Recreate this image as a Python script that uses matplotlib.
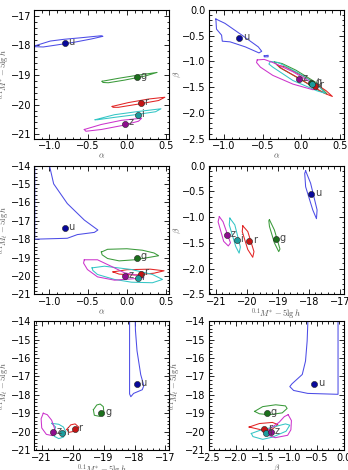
import matplotlib
matplotlib.use("Agg")
import matplotlib.pyplot as plt
from matplotlib.ticker import AutoMinorLocator, FixedLocator

plt.rcParams["mathtext.fontset"] = "cm"

# best-fit values per band
bands = ["u", "g", "r", "i", "z"]
alpha = [-0.80, 0.13, 0.18, 0.14, -0.03]
beta = [-0.55, -1.42, -1.47, -1.44, -1.35]
mstar = [-17.93, -19.07, -19.94, -20.34, -20.64]
mt = [-17.40, -19.00, -19.87, -20.10, -20.00]

point_colors = ["#08089a", "#1b6f1b", "#c41414", "#1c9c9c", "#8e0e8e"]
line_colors = ["#4c4ce6", "#3a9a3a", "#e22424", "#34c6c6", "#cc34cc"]

# confidence contours (x, y vertices)
cont_alpha_mstar = {
    "u": [(-1.20, -18.02), (-0.99, -17.85), (-0.81, -17.79), (-0.60, -17.74), (-0.33, -17.67),
          (-0.31, -17.69), (-0.46, -17.78), (-0.68, -17.89), (-0.90, -17.98), (-1.08, -18.05), (-1.20, -18.04)],
    "g": [(-0.32, -19.21), (-0.11, -19.11), (0.15, -19.00), (0.39, -18.91), (0.24, -19.03),
          (-0.03, -19.17), (-0.24, -19.26), (-0.31, -19.25)],
    "r": [(-0.19, -20.06), (0.02, -19.93), (0.28, -19.81), (0.49, -19.75), (0.41, -19.86),
          (0.15, -19.98), (-0.11, -20.09), (-0.18, -20.09)],
    "i": [(-0.41, -20.51), (-0.16, -20.34), (0.15, -20.23), (0.44, -20.14), (0.37, -20.24),
          (0.11, -20.34), (-0.16, -20.43), (-0.38, -20.51)],
    "z": [(-0.55, -20.84), (-0.33, -20.67), (-0.07, -20.53), (0.19, -20.46), (0.15, -20.56),
          (-0.07, -20.71), (-0.33, -20.84), (-0.53, -20.90)],
}

cont_alpha_beta = {
    "u": [(-1.105, -0.175), (-1.097, -0.371), (-1.031, -0.489), (-1.022, -0.606), (-0.921, -0.619),
          (-0.724, -0.717), (-0.548, -0.834), (-0.513, -0.802), (-0.557, -0.717), (-0.768, -0.489),
          (-0.987, -0.260)],
    "g": [(-0.35, -1.01), (-0.25, -1.04), (-0.07, -1.17), (0.20, -1.42), (0.33, -1.63),
          (0.22, -1.56), (-0.02, -1.34), (-0.28, -1.12)],
    "r": [(-0.31, -1.07), (-0.20, -1.11), (0.10, -1.35), (0.32, -1.57), (0.40, -1.68),
          (0.30, -1.62), (0.05, -1.40), (-0.25, -1.14)],
    "i": [(-0.40, -1.00), (-0.30, -1.02), (-0.02, -1.24), (0.20, -1.45), (0.31, -1.62),
          (0.20, -1.57), (-0.11, -1.37), (-0.37, -1.11), (-0.42, -1.05)],
    "z": [(-0.57, -0.97), (-0.48, -0.96), (-0.37, -1.02), (-0.11, -1.20), (0.15, -1.43),
          (0.20, -1.52), (0.15, -1.55), (-0.11, -1.44), (-0.37, -1.27), (-0.53, -1.11), (-0.58, -1.02)],
}
u_islet_alpha_beta = [(-0.48, -0.89), (-0.43, -0.88), (-0.43, -0.91), (-0.48, -0.91)]

cont_alpha_mt = {
    "u": [(-1.19, -13.8), (-1.19, -18.0), (-0.77, -17.95), (-0.64, -17.75), (-0.42, -17.63),
          (-0.375, -17.50), (-0.55, -16.96), (-0.77, -16.06), (-0.946, -14.99), (-1.0, -14.0),
          (-1.01, -13.8)],
    "g": [(-0.33, -18.70), (-0.25, -18.55), (0.0, -18.52), (0.20, -18.60), (0.35, -18.75),
          (0.41, -18.90), (0.30, -18.98), (0.10, -19.12), (-0.10, -19.18), (-0.25, -19.05),
          (-0.32, -18.85)],
    "r": [(-0.18, -19.78), (0.0, -19.66), (0.30, -19.63), (0.48, -19.72), (0.35, -19.85),
          (0.10, -19.95), (-0.10, -19.90)],
    "i": [(-0.45, -19.56), (-0.29, -19.47), (0.06, -19.65), (0.33, -19.92), (0.46, -20.19),
          (0.33, -20.37), (0.06, -20.34), (-0.16, -20.19), (-0.38, -19.92), (-0.44, -19.70)],
    "z": [(-0.55, -19.12), (-0.38, -19.12), (-0.20, -19.48), (-0.03, -19.83), (0.15, -19.98),
          (0.22, -20.10), (0.06, -20.16), (-0.16, -20.23), (-0.38, -20.05), (-0.51, -19.65),
          (-0.56, -19.30)],
}

cont_mstar_beta = {
    "u": [(-18.11, -0.10), (-17.95, -0.34), (-17.74, -0.86), (-17.76, -1.03), (-17.88, -0.86),
          (-18.11, -0.41), (-18.14, -0.15)],
    "g": [(-19.28, -1.05), (-19.12, -1.25), (-18.94, -1.62), (-18.98, -1.67), (-19.12, -1.50),
          (-19.28, -1.18), (-19.30, -1.07)],
    "r": [(-20.14, -1.17), (-19.98, -1.28), (-19.78, -1.67), (-19.82, -1.78), (-19.98, -1.63),
          (-20.16, -1.28)],
    "i": [(-20.56, -1.02), (-20.40, -1.15), (-20.22, -1.58), (-20.26, -1.70), (-20.37, -1.57),
          (-20.58, -1.15)],
    "z": [(-20.90, -0.99), (-20.78, -1.09), (-20.54, -1.50), (-20.61, -1.56), (-20.76, -1.47),
          (-20.94, -1.09)],
}

cont_mstar_mt = {
    "u": [(-18.16, -13.9), (-18.16, -17.95), (-18.12, -18.10), (-18.03, -17.92), (-17.75, -17.72),
          (-17.70, -17.50), (-17.80, -16.90), (-17.92, -15.60), (-17.97, -14.50), (-17.98, -13.9)],
    "g": [(-19.33, -18.81), (-19.22, -18.55), (-19.11, -18.50), (-19.01, -18.64), (-18.99, -18.97),
          (-19.13, -19.17), (-19.30, -19.11)],
    "r": [(-20.19, -19.88), (-20.06, -19.63), (-19.92, -19.58), (-19.80, -19.76), (-19.89, -19.96),
          (-20.12, -20.04)],
    "i": [(-20.68, -19.55), (-20.45, -19.60), (-20.30, -19.75), (-20.22, -20.00), (-20.30, -20.30),
          (-20.45, -20.38), (-20.60, -20.25), (-20.60, -19.95), (-20.55, -19.75)],
    "z": [(-20.95, -19.00), (-20.82, -19.08), (-20.68, -19.38), (-20.60, -19.75), (-20.55, -20.05),
          (-20.65, -20.22), (-20.85, -20.15), (-21.00, -19.80), (-21.02, -19.30)],
}

cont_beta_mt = {
    "u": [(-0.11, -13.9), (-0.11, -17.97), (-0.67, -17.92), (-0.93, -17.76), (-1.0, -17.55),
          (-0.96, -17.40), (-0.77, -16.89), (-0.71, -16.16), (-0.68, -15.07), (-0.665, -13.9)],
    "g": [(-1.65, -18.90), (-1.50, -18.64), (-1.26, -18.54), (-1.08, -18.60), (-1.05, -18.74),
          (-1.14, -18.98), (-1.38, -19.08), (-1.56, -19.03)],
    "r": [(-1.75, -19.75), (-1.56, -19.56), (-1.32, -19.50), (-1.22, -19.62), (-1.32, -19.86),
          (-1.53, -19.90)],
    "i": [(-1.71, -20.10), (-1.56, -19.94), (-1.32, -19.76), (-1.08, -19.58), (-1.0, -19.65),
          (-1.07, -19.98), (-1.32, -20.30), (-1.50, -20.42), (-1.68, -20.27)],
    "z": [(-1.03, -19.08), (-0.97, -19.40), (-0.98, -19.90), (-1.04, -20.20), (-1.27, -20.33),
          (-1.45, -20.15), (-1.36, -19.82), (-1.20, -19.50), (-1.10, -19.18)],
}

alpha_ticks = [-1.0, -0.5, 0.0, 0.5]
beta_ticks = [0.0, -0.5, -1.0, -1.5, -2.0, -2.5]
mstar_ticks = [-21, -20, -19, -18, -17]
mt_ticks = [-21, -20, -19, -18, -17, -16, -15, -14]

lab_alpha = r"$\alpha$"
lab_beta = r"$\beta$"
lab_mstar = r"$^{0.1}M^{*}-5\lg h$"
lab_mt = r"$^{0.1}M_{t}-5\lg h$"

panels = [
    (alpha, mstar, cont_alpha_mstar, (-1.2, 0.55), (-21.15, -16.8), alpha_ticks, mstar_ticks, lab_alpha, lab_mstar),
    (alpha, beta, cont_alpha_beta, (-1.2, 0.55), (-2.5, 0.0), alpha_ticks, beta_ticks, lab_alpha, lab_beta),
    (alpha, mt, cont_alpha_mt, (-1.2, 0.55), (-21, -14), alpha_ticks, mt_ticks, lab_alpha, lab_mt),
    (mstar, beta, cont_mstar_beta, (-21.25, -16.87), (-2.5, 0.0), mstar_ticks, beta_ticks, lab_mstar, lab_beta),
    (mstar, mt, cont_mstar_mt, (-21.25, -16.87), (-21, -14), mstar_ticks, mt_ticks, lab_mstar, lab_mt),
    (beta, mt, cont_beta_mt, (-2.5, 0.0), (-21, -14), beta_ticks, mt_ticks, lab_beta, lab_mt),
]


def fmt(v):
    s = "%.1f" % v if isinstance(v, float) else "%d" % v
    return s.replace("-", "\u2212")


fig, axs = plt.subplots(3, 2, figsize=(3.48, 4.70), dpi=100)
fig.subplots_adjust(left=34 / 348, right=344 / 348, top=1 - 10 / 470, bottom=1 - 450 / 470,
                    wspace=0.288, hspace=0.21)

for k, (ax, (xv, yv, conts, xlim, ylim, xt, yt, xl, yl)) in enumerate(zip(axs.flatten(), panels)):
    for b, lc in zip(bands, line_colors):
        pts = conts[b] + [conts[b][0]]
        ax.plot([p[0] for p in pts], [p[1] for p in pts], color=lc, lw=0.75)
    if conts is cont_alpha_beta:
        pts = u_islet_alpha_beta + [u_islet_alpha_beta[0]]
        ax.plot([p[0] for p in pts], [p[1] for p in pts], color=line_colors[0], lw=0.75)

    for b, x, y, pc in zip(bands, xv, yv, point_colors):
        ax.plot(x, y, "o", ms=4.4, mfc=pc, mec="#222222", mew=0.4, zorder=5)
        ax.annotate(b, (x, y), xytext=(2.6, 0.8), textcoords="offset points",
                    fontsize=7, color="#444444", va="center", ha="left", zorder=6)

    ax.set_xlim(xlim)
    ax.set_ylim(ylim)
    ax.xaxis.set_major_locator(FixedLocator(xt))
    ax.yaxis.set_major_locator(FixedLocator(yt))
    ax.set_xticklabels([fmt(v) for v in xt])
    ax.set_yticklabels([fmt(v) for v in yt])
    ax.xaxis.set_minor_locator(AutoMinorLocator(5))
    ax.yaxis.set_minor_locator(AutoMinorLocator(5))
    ax.tick_params(which="both", direction="in", top=True, right=True, labelsize=7.0, width=0.6, pad=2)
    ax.tick_params(which="major", length=3.5)
    ax.tick_params(which="minor", length=1.8)
    for s in ax.spines.values():
        s.set_linewidth(0.8)
    ax.set_xlabel(xl, fontsize=6.2, color="#555555", labelpad=0)
    ax.set_ylabel(yl, fontsize=6.2, color="#555555", labelpad=0)
    if k % 2 == 0:
        ax.yaxis.set_label_coords(-0.165, 0.5)
    else:
        ax.yaxis.set_label_coords(-0.185, 0.5)

fig.savefig("out.png", dpi=100)
